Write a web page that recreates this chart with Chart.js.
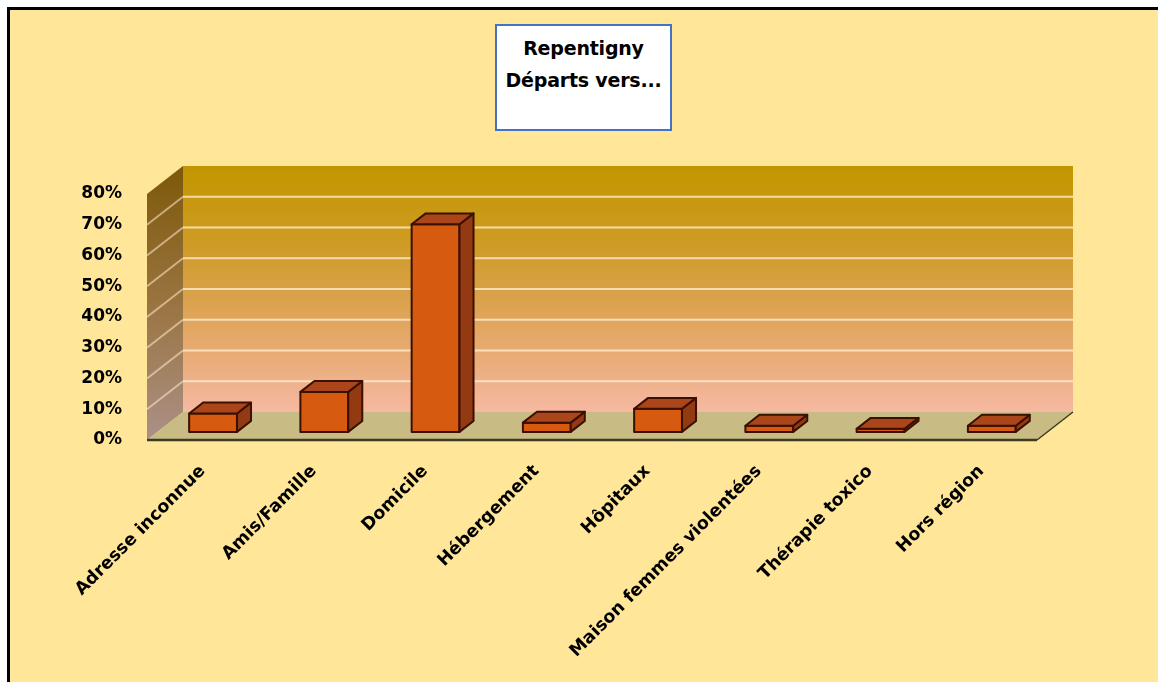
<!DOCTYPE html>
<html>
<head>
<meta charset="utf-8">
<script src="https://cdn.jsdelivr.net/npm/chart.js@4.4.1/dist/chart.umd.min.js"></script>
<style>
html,body{margin:0;padding:0;background:#fff;width:1158px;height:682px;overflow:hidden}
#frame{position:absolute;left:7px;top:7px;width:1151px;height:675px;background:#FFE699;border-left:3px solid #000;border-top:3px solid #000;box-sizing:border-box}
#wrap{position:absolute;left:0;top:0;width:1158px;height:682px}
#title{position:absolute;left:495px;top:24px;width:177px;height:107px;background:#fff;border:2px solid #4472C4;box-sizing:border-box;
  font-family:"DejaVu Sans",sans-serif;font-weight:bold;font-size:19px;line-height:32px;text-align:center;color:#000;padding-top:6px;letter-spacing:-0.2px}
</style>
</head>
<body>
<div id="frame"></div>
<div id="wrap"><canvas id="c" width="1158" height="682"></canvas></div>
<div id="title">Repentigny<br>Départs vers...</div>
<script>
const categories = ['Adresse inconnue', 'Amis/Famille', 'Domicile', 'Hébergement', 'Hôpitaux', 'Maison femmes violentées', 'Thérapie toxico', 'Hors région'];
const values = [6, 13, 67.5, 3, 7.5, 2, 1, 2];
const yTickValues = [0, 10, 20, 30, 40, 50, 60, 70, 80];

const DX = 36, DY = -28;          // full depth of the 3D box
const F1 = 0.29, F2 = 0.68;       // bar front / back position within depth

const depthPlugin = {
  id: 'depth3d',
  beforeDatasetsDraw(chart) {
    const ctx = chart.ctx, a = chart.chartArea, y = chart.scales.y;
    const L = a.left, R = a.right, T = a.top, B = a.bottom;
    ctx.save();
    // side wall
    let g = ctx.createLinearGradient(0, T + DY, 0, B);
    g.addColorStop(0, '#7C580A');
    g.addColorStop(0.5, '#9A7440');
    g.addColorStop(1, '#AB9088');
    ctx.fillStyle = g;
    ctx.beginPath();
    ctx.moveTo(L, T); ctx.lineTo(L + DX, T + DY); ctx.lineTo(L + DX, B + DY); ctx.lineTo(L, B);
    ctx.closePath(); ctx.fill();
    // back wall
    g = ctx.createLinearGradient(0, T + DY, 0, B + DY);
    g.addColorStop(0, '#C29600');
    g.addColorStop(0.3, '#CE9B22');
    g.addColorStop(0.55, '#DBA24E');
    g.addColorStop(0.8, '#EAAD7C');
    g.addColorStop(1, '#F6B9A2');
    ctx.fillStyle = g;
    ctx.fillRect(L + DX, T + DY, R - L, B - T);
    // gridlines
    ctx.lineWidth = 2;
    yTickValues.forEach(v => {
      if (v <= 0 || v >= 80) return;
      const py = y.getPixelForValue(v);
      ctx.strokeStyle = 'rgba(255,236,205,0.8)';
      ctx.beginPath(); ctx.moveTo(L + DX, py + DY); ctx.lineTo(R + DX, py + DY); ctx.stroke();
      ctx.strokeStyle = 'rgba(255,236,205,0.55)';
      ctx.beginPath(); ctx.moveTo(L, py); ctx.lineTo(L + DX, py + DY); ctx.stroke();
    });
    // floor
    ctx.fillStyle = '#C8BC84';
    ctx.beginPath();
    ctx.moveTo(L, B); ctx.lineTo(R, B); ctx.lineTo(R + DX, B + DY); ctx.lineTo(L + DX, B + DY);
    ctx.closePath(); ctx.fill();
    ctx.strokeStyle = '#3E3A22';
    ctx.lineWidth = 2.5;
    ctx.beginPath(); ctx.moveTo(L, B); ctx.lineTo(R, B); ctx.stroke();
    ctx.lineWidth = 1.5;
    ctx.beginPath(); ctx.moveTo(R, B); ctx.lineTo(R + DX, B + DY); ctx.stroke();
    ctx.restore();
  },
  afterDatasetsDraw(chart) {
    const ctx = chart.ctx;
    const meta = chart.getDatasetMeta(0);
    ctx.save();
    ctx.lineJoin = 'round';
    ctx.lineWidth = 2;
    ctx.strokeStyle = '#3A1000';
    const fx = F1 * DX, fy = F1 * DY;
    const bx = (F2 - F1) * DX, by = (F2 - F1) * DY;
    meta.data.forEach(bar => {
      const p = bar.getProps(['x', 'y', 'base', 'width'], true);
      const l = p.x - p.width / 2 + fx, r = p.x + p.width / 2 + fx;
      const t = p.y + fy, b = p.base + fy;
      // front
      ctx.fillStyle = '#D65A0F';
      ctx.beginPath(); ctx.rect(l, t, r - l, b - t); ctx.fill(); ctx.stroke();
      // side
      ctx.fillStyle = '#943A12';
      ctx.beginPath();
      ctx.moveTo(r, t); ctx.lineTo(r + bx, t + by); ctx.lineTo(r + bx, b + by); ctx.lineTo(r, b);
      ctx.closePath(); ctx.fill(); ctx.stroke();
      // top
      ctx.fillStyle = '#AA4619';
      ctx.beginPath();
      ctx.moveTo(l, t); ctx.lineTo(r, t); ctx.lineTo(r + bx, t + by); ctx.lineTo(l + bx, t + by);
      ctx.closePath(); ctx.fill(); ctx.stroke();
    });
    ctx.restore();
  }
};

new Chart(document.getElementById('c'), {
  type: 'bar',
  data: {
    labels: categories,
    datasets: [{
      data: values,
      backgroundColor: 'rgba(0,0,0,0)',
      borderWidth: 0,
      categoryPercentage: 1,
      barPercentage: 0.43
    }]
  },
  options: {
    responsive: false,
    devicePixelRatio: 1,
    animation: false,
    layout: { padding: { top: 194, right: 121, left: 0, bottom: 0 } },
    plugins: { legend: { display: false }, tooltip: { enabled: false }, title: { display: false } },
    scales: {
      x: {
        grid: { display: false, drawTicks: false },
        border: { display: false },
        ticks: {
          autoSkip: false, maxRotation: 45, minRotation: 45, padding: 21, labelOffset: 0,
          color: '#000', font: { family: 'DejaVu Sans', weight: 'bold', size: 17.5 }
        },
        afterFit(s) { s.height = 242; }
      },
      y: {
        min: 0, max: 80,
        afterBuildTicks(s) { s.ticks = yTickValues.map(v => ({ value: v })); },
        grid: { display: false, drawTicks: false },
        border: { display: false },
        ticks: {
          padding: 25, color: '#000',
          font: { family: 'DejaVu Sans', weight: 'bold', size: 17 },
          callback: v => v + '%'
        },
        afterFit(s) { s.width = 147; }
      }
    }
  },
  plugins: [depthPlugin]
});
</script>
</body>
</html>
